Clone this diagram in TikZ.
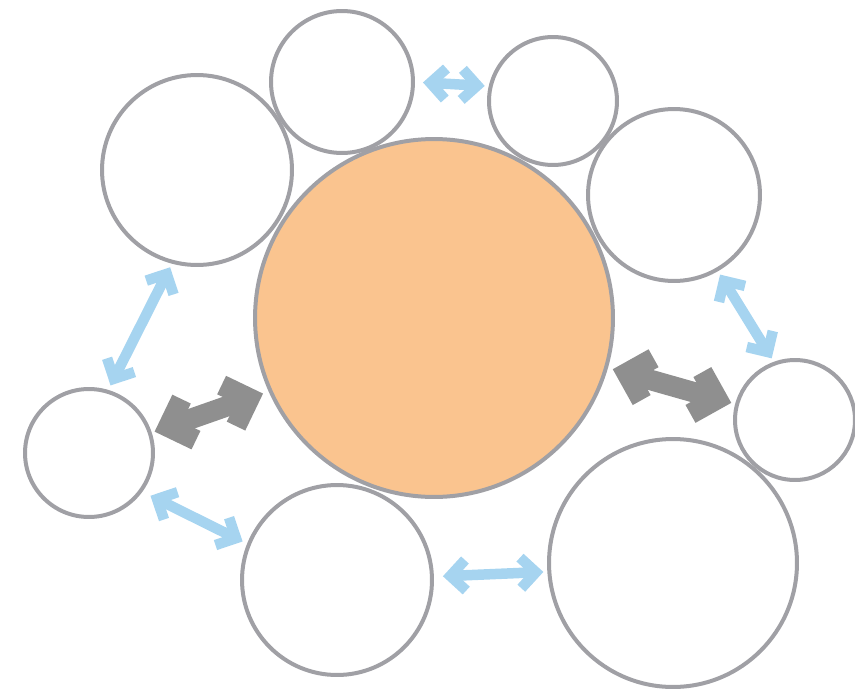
\documentclass[tikz,border=0pt]{standalone}
\usetikzlibrary{arrows.meta}
\definecolor{ringgray}{RGB}{160,160,165}
\definecolor{hubfill}{RGB}{250,196,143}
\definecolor{linkblue}{RGB}{166,212,240}
\definecolor{coregray}{RGB}{143,143,143}

% square chevron head: length = half spread, width = arm thickness, inset = half shaft
\pgfdeclarearrow{
  name = Chevron,
  defaults = {length=5pt, width=2pt, inset=1pt},
  parameters = {\the\pgfarrowlength,\the\pgfarrowwidth,\the\pgfarrowinset},
  setup code = {
    \pgfarrowssettipend{0pt}
    \pgfmathsetlengthmacro\chevend{-\pgfarrowinset-\pgfarrowwidth}
    \pgfarrowssetlineend{\chevend}
    \pgfmathsetlengthmacro\chevback{-\pgfarrowlength-0.7071*\pgfarrowwidth}
    \pgfarrowssetbackend{\chevback}
    \pgfarrowssavethe\pgfarrowlength
    \pgfarrowssavethe\pgfarrowwidth
    \pgfarrowssavethe\pgfarrowinset
  },
  drawing code = {
    \pgfmathsetlengthmacro\chevbx{-\pgfarrowlength-0.7071*\pgfarrowwidth}
    \pgfmathsetlengthmacro\chevby{\pgfarrowlength-0.7071*\pgfarrowwidth}
    \pgfmathsetlengthmacro\chevny{-\chevby}
    \pgfmathsetlengthmacro\chevnx{-\pgfarrowinset-1.4142*\pgfarrowwidth}
    \pgfpathmoveto{\pgfpointorigin}
    \pgfpathlineto{\pgfpoint{-\pgfarrowlength}{\pgfarrowlength}}
    \pgfpathlineto{\pgfpoint{\chevbx}{\chevby}}
    \pgfpathlineto{\pgfpoint{\chevnx}{\pgfarrowinset}}
    \pgfpathlineto{\pgfpoint{\chevnx}{-\pgfarrowinset}}
    \pgfpathlineto{\pgfpoint{\chevbx}{\chevny}}
    \pgfpathlineto{\pgfpoint{-\pgfarrowlength}{-\pgfarrowlength}}
    \pgfpathclose
    \pgfusepathqfill
  }
}

\begin{document}
\begin{tikzpicture}[
    x=0.02cm, y=-0.02cm,
    ring/.style={
        circle,
        draw=ringgray, line width=0.08cm,
        fill=white,
        inner sep=0pt,
        minimum size=#1
    },
    hub/.style={
        ring=7.16cm,
        fill=hubfill
    },
    link_arrow/.style={
        draw=linkblue, line width=0.21cm,
        arrows={Chevron[length=0.38cm, width=0.21cm, inset=0.105cm]-Chevron[length=0.38cm, width=0.21cm, inset=0.105cm]}
    },
    core_arrow/.style={
        draw=coregray, line width=0.41cm,
        arrows={Chevron[length=0.58cm, width=0.41cm, inset=0.205cm]-Chevron[length=0.58cm, width=0.41cm, inset=0.205cm]}
    }
]
\useasboundingbox (0,0) rectangle (855,693);

% circles
\node (hub) [hub] at (434,318) {};
\node (top_left) [ring=3.8cm] at (197,170) {};
\node (top_mid) [ring=2.84cm] at (342,82) {};
\node (top_right) [ring=2.56cm] at (553,101) {};
\node (right_upper) [ring=3.44cm] at (674,195) {};
\node (right_small) [ring=2.4cm] at (795,420) {};
\node (bottom_right) [ring=4.96cm] at (673,563) {};
\node (bottom_mid) [ring=3.8cm] at (337,580) {};
\node (left_small) [ring=2.56cm] at (89,453) {};

% links between neighbours
\draw [link_arrow, shorten <=0.16cm, shorten >=0.08cm] (top_mid.0) -- (top_right.167);
\draw [link_arrow, shorten <=0.08cm, shorten >=0.1cm] (top_left.-105) -- (left_small.73);
\draw [link_arrow, shorten <=0.18cm, shorten >=0.1cm] (left_small.-36) -- (bottom_mid.158);
\draw [link_arrow, shorten <=0.18cm, shorten >=0.08cm] (bottom_mid.2) -- (bottom_right.-176);
\draw [link_arrow, shorten <=0.08cm, shorten >=0.08cm] (right_upper.-60) -- (right_small.110);

% links to the hub
\draw [core_arrow, shorten <=0.06cm, shorten >=0.12cm] (left_small.18) -- (hub.204);
\draw [core_arrow, shorten <=0.1cm, shorten >=0.08cm] (hub.-16) -- (right_small.165);

\end{tikzpicture}
\end{document}
